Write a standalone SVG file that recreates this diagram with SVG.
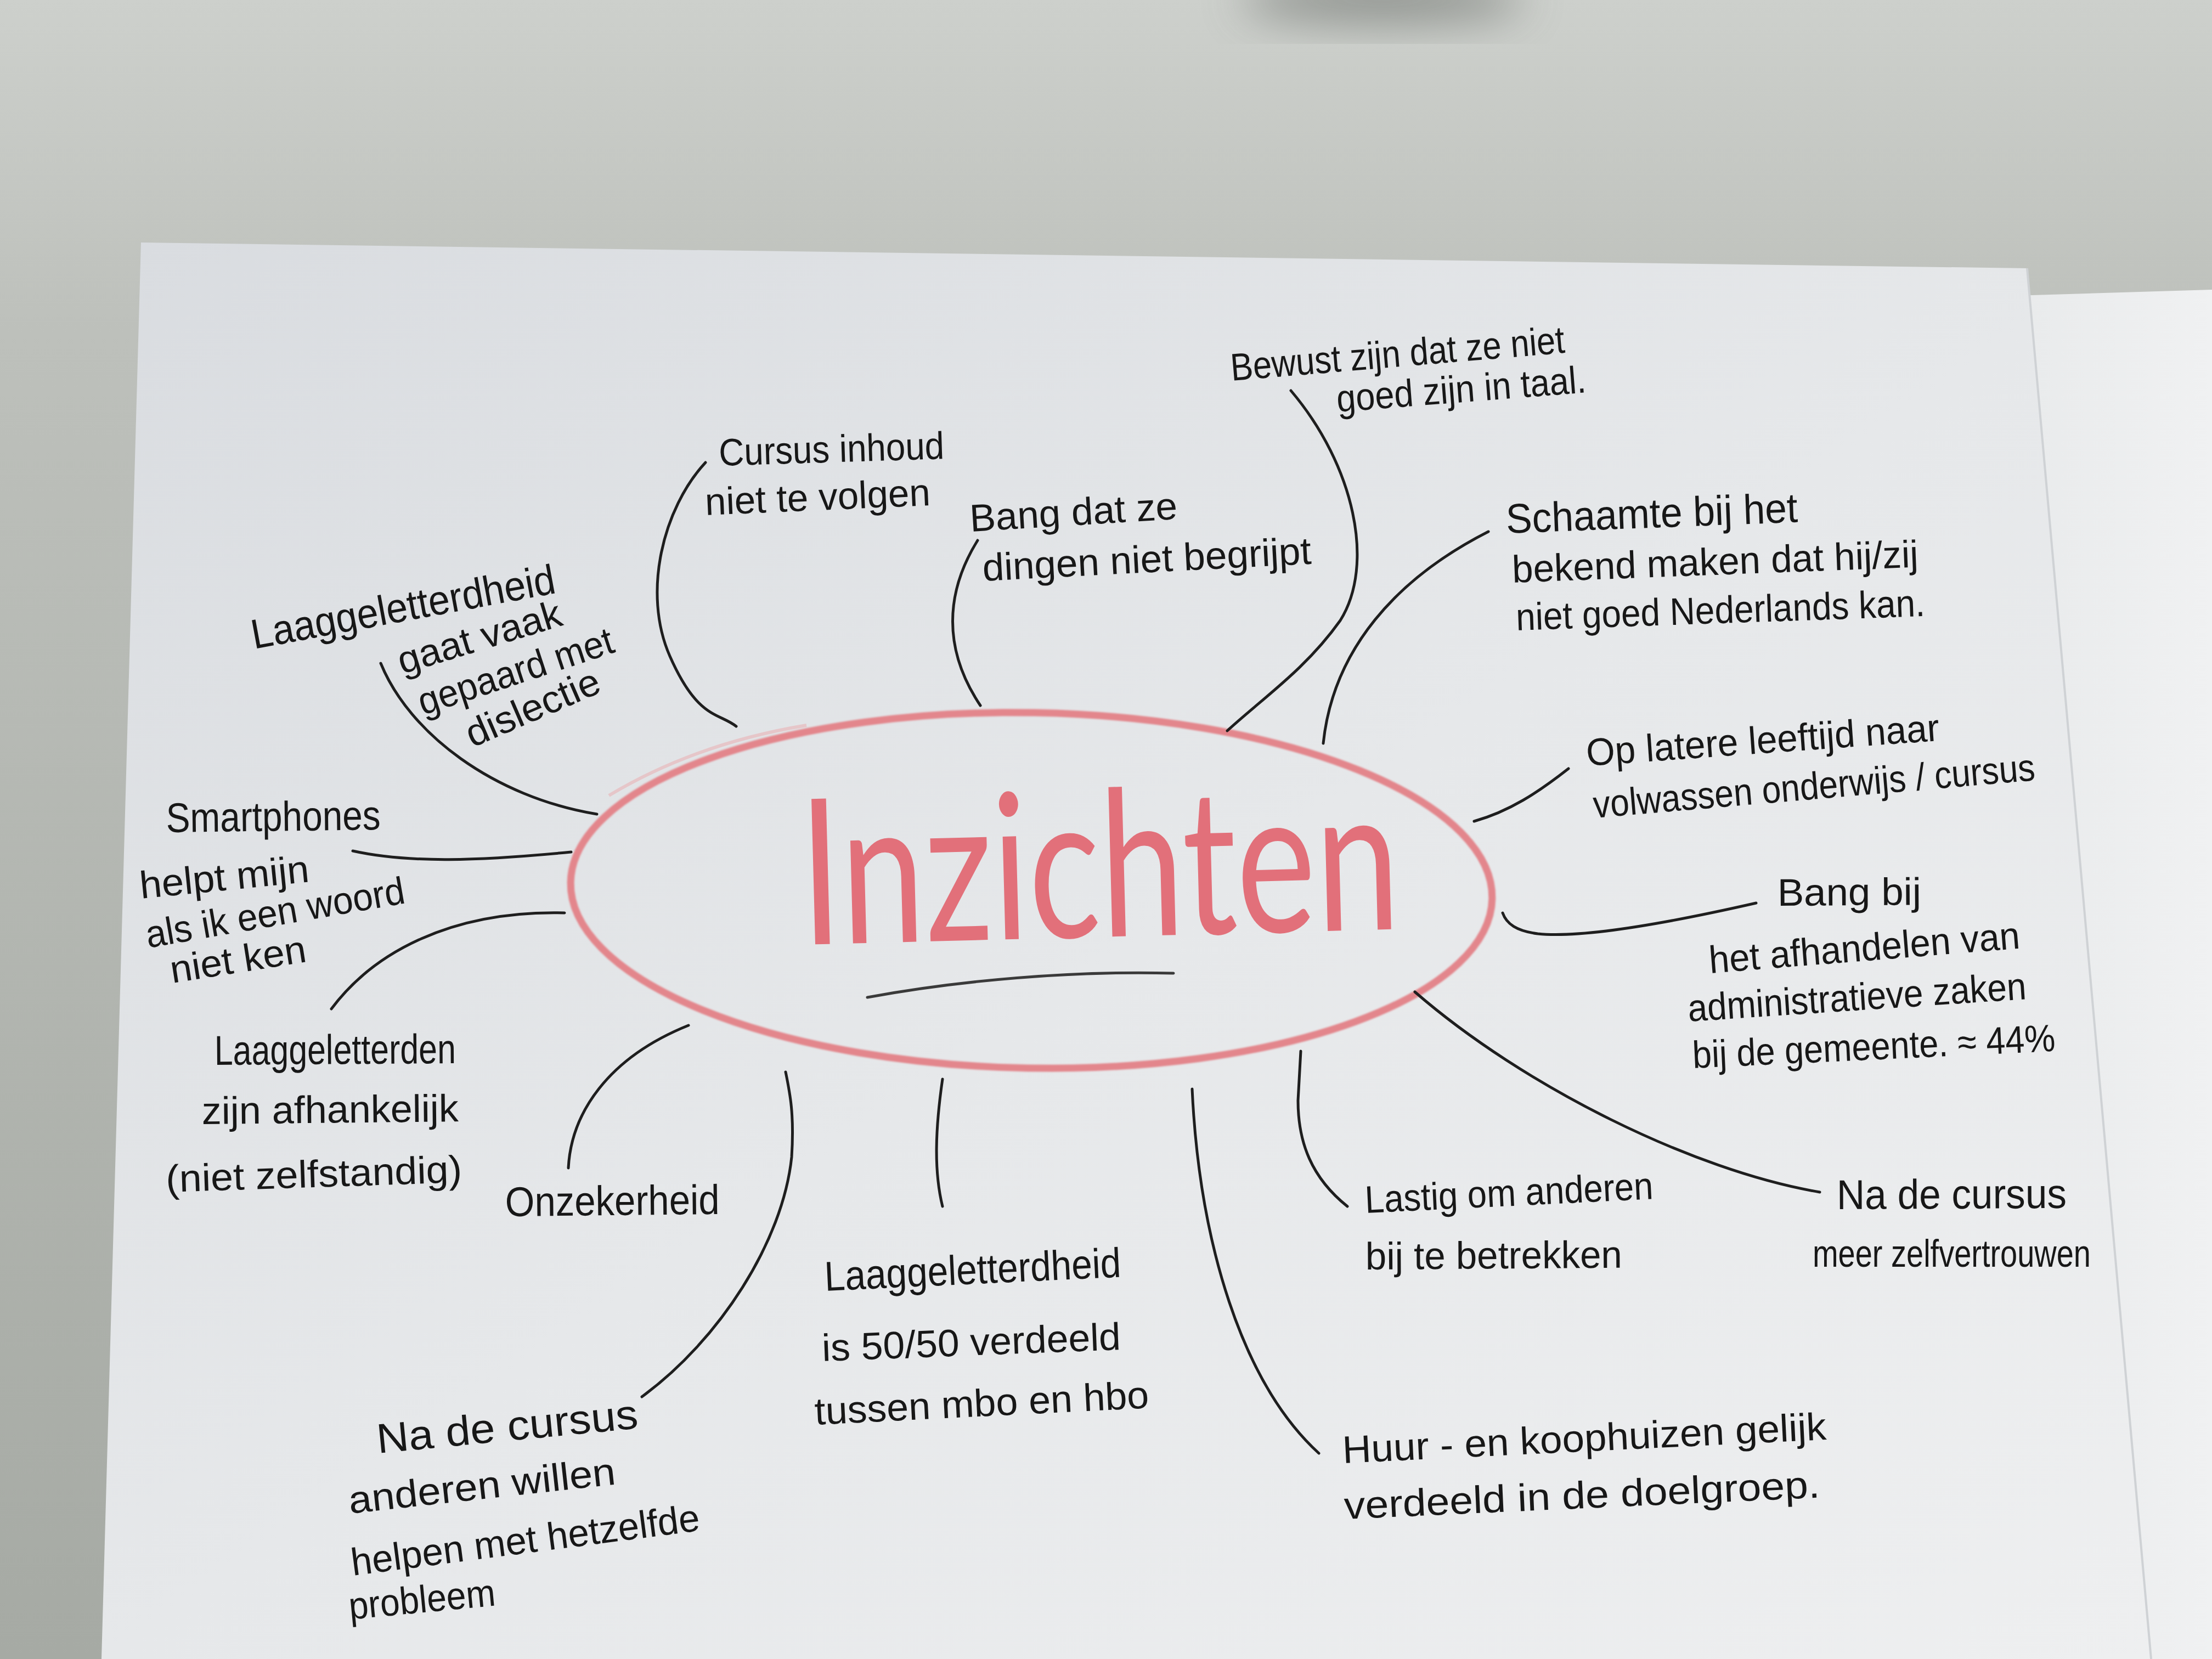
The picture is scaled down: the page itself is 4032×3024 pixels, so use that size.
<svg xmlns="http://www.w3.org/2000/svg" width="4032" height="3024" viewBox="0 0 4032 3024">
  <defs>
    <linearGradient id="tableGrad" x1="0" y1="0" x2="0" y2="1">
      <stop offset="0" stop-color="#cdd0cc"/>
      <stop offset="0.2" stop-color="#bdc0bb"/>
      <stop offset="1" stop-color="#a6aaa4"/>
    </linearGradient>
    <linearGradient id="paperGrad" x1="0" y1="0" x2="1" y2="1">
      <stop offset="0" stop-color="#d9dce0"/>
      <stop offset="0.5" stop-color="#e6e8ea"/>
      <stop offset="1" stop-color="#eeeff0"/>
    </linearGradient>
    <linearGradient id="sheetGrad" x1="0" y1="0" x2="1" y2="0">
      <stop offset="0" stop-color="#e8eaeb"/>
      <stop offset="1" stop-color="#f0f1f2"/>
    </linearGradient>
    <filter id="soft" x="-50%" y="-50%" width="200%" height="200%">
      <feGaussianBlur stdDeviation="40"/>
    </filter>
    <filter id="marker" x="-5%" y="-5%" width="110%" height="110%">
      <feGaussianBlur stdDeviation="1.5"/>
    </filter>
  </defs>
  <style>
    .hand { font-family: "Liberation Sans", "DejaVu Sans", sans-serif; font-size: 70px; fill: #171717; }
    .big { font-size: 76px; }
    .link { fill: none; stroke: #1e1e1e; stroke-width: 5; stroke-linecap: round; }
    .title { font-family: "Lato", "Liberation Sans", sans-serif; font-weight: 400; font-size: 370px; fill: #e2707a; }
  </style>

  <!-- table surface -->
  <rect x="0" y="0" width="4032" height="3024" fill="url(#tableGrad)"/>
  <ellipse cx="2520" cy="0" rx="260" ry="40" fill="#5f635e" opacity="0.6" filter="url(#soft)"/>

  <!-- sheet lying behind on the right -->
  <polygon points="3640,540 4032,528 4032,3024 3780,3024" fill="url(#sheetGrad)"/>

  <!-- main sheet -->
  <polygon points="257,442 3695,489 3921,3024 185,3024" fill="url(#paperGrad)"/>
  <line x1="3695" y1="489" x2="3921" y2="3024" stroke="#cfd2d5" stroke-width="4"/>

  <!-- central node -->
  <g id="node-inzichten">
    <ellipse cx="1880" cy="1623" rx="840" ry="324" transform="rotate(1 1880 1623)" fill="none" stroke="#e3868c" stroke-width="13" filter="url(#marker)"/>
    <path d="M1110,1450 C1210,1390 1330,1345 1470,1322" fill="none" stroke="#eab2b5" stroke-width="6" opacity="0.6"/>
    <text class="title" x="1461" y="1722" transform="rotate(-1.5 1461 1722)" textLength="1093" lengthAdjust="spacingAndGlyphs">Inzichten</text>
    <path d="M1581,1818 C1749,1787 1954,1769 2139,1774" fill="none" stroke="#3a3a3a" stroke-width="5" stroke-linecap="round"/>
  </g>

  <!-- connectors -->
  <g id="connectors">
    <path class="link" d="M1286,843 C1209,926 1170,1080 1221,1196 S1311,1299 1342,1324"/>
    <path class="link" d="M694,1209 C746,1337 900,1453 1088,1484"/>
    <path class="link" d="M643,1551 C746,1574 874,1569 1041,1553"/>
    <path class="link" d="M604,1839 C681,1736 823,1659 1029,1664"/>
    <path class="link" d="M1036,2129 C1041,2031 1106,1929 1255,1869"/>
    <path class="link" d="M1170,2546 C1311,2443 1427,2263 1443,2109 C1448,2031 1440,1993 1432,1954"/>
    <path class="link" d="M1718,1967 C1705,2057 1702,2134 1718,2199"/>
    <path class="link" d="M2404,2649 C2263,2520 2186,2263 2173,1985"/>
    <path class="link" d="M2456,2199 C2391,2147 2366,2083 2366,2006 L2371,1916"/>
    <path class="link" d="M3317,2173 C3086,2134 2777,1980 2579,1808"/>
    <path class="link" d="M3201,1646 C3034,1684 2880,1710 2803,1702 C2764,1697 2746,1684 2739,1664"/>
    <path class="link" d="M2859,1401 C2803,1445 2751,1479 2687,1497"/>
    <path class="link" d="M2713,969 C2546,1054 2430,1183 2412,1355"/>
    <path class="link" d="M2353,712 C2469,849 2507,1029 2443,1131 C2379,1221 2301,1273 2237,1332"/>
    <path class="link" d="M1782,985 C1723,1080 1718,1183 1787,1286"/>
  </g>

  <g id="node-cursus-inhoud">
    <text class="hand" x="1311" y="849" transform="rotate(-1.8 1311 849)" textLength="411" lengthAdjust="spacingAndGlyphs">Cursus inhoud</text>
    <text class="hand" x="1286" y="939" transform="rotate(-2.5 1286 939)" textLength="411" lengthAdjust="spacingAndGlyphs">niet te volgen</text>
  </g>

  <g id="node-bang-begrijpt">
    <text class="hand" x="1769" y="969" transform="rotate(-3.5 1769 969)" textLength="379" lengthAdjust="spacingAndGlyphs">Bang dat ze</text>
    <text class="hand" x="1792" y="1059" transform="rotate(-3 1792 1059)" textLength="600" lengthAdjust="spacingAndGlyphs">dingen niet begrijpt</text>
  </g>

  <g id="node-bewust">
    <text class="hand" x="2245" y="694" transform="rotate(-4.8 2245 694)" textLength="611" lengthAdjust="spacingAndGlyphs">Bewust zijn dat ze niet</text>
    <text class="hand" x="2438" y="751" transform="rotate(-4.5 2438 751)" textLength="456" lengthAdjust="spacingAndGlyphs">goed zijn in taal.</text>
  </g>

  <g id="node-schaamte">
    <text class="hand big" x="2746" y="972" transform="rotate(-2.2 2746 972)" textLength="532" lengthAdjust="spacingAndGlyphs">Schaamte bij het</text>
    <text class="hand" x="2757" y="1062" transform="rotate(-2.2 2757 1062)" textLength="741" lengthAdjust="spacingAndGlyphs">bekend maken dat hij/zij</text>
    <text class="hand" x="2764" y="1149" transform="rotate(-2 2764 1149)" textLength="746" lengthAdjust="spacingAndGlyphs">niet goed Nederlands kan.</text>
  </g>

  <g id="node-latere-leeftijd">
    <text class="hand" x="2893" y="1396" transform="rotate(-4.1 2893 1396)" textLength="645" lengthAdjust="spacingAndGlyphs">Op latere leeftijd naar</text>
    <text class="hand" x="2906" y="1491" transform="rotate(-4.9 2906 1491)" textLength="808" lengthAdjust="spacingAndGlyphs">volwassen onderwijs / cursus</text>
  </g>

  <g id="node-bang-gemeente">
    <text class="hand" x="3240" y="1651" transform="rotate(-0.4 3240 1651)" textLength="262" lengthAdjust="spacingAndGlyphs">Bang bij</text>
    <text class="hand" x="3117" y="1774" transform="rotate(-4.6 3117 1774)" textLength="568" lengthAdjust="spacingAndGlyphs">het afhandelen van</text>
    <text class="hand" x="3078" y="1862" transform="rotate(-3.8 3078 1862)" textLength="618" lengthAdjust="spacingAndGlyphs">administratieve zaken</text>
    <text class="hand" x="3086" y="1947" transform="rotate(-2.7 3086 1947)" textLength="662" lengthAdjust="spacingAndGlyphs">bij de gemeente. ≈ 44%</text>
  </g>

  <g id="node-zelfvertrouwen">
    <text class="hand big" x="3348" y="2204" transform="rotate(-0.3 3348 2204)" textLength="419" lengthAdjust="spacingAndGlyphs">Na de cursus</text>
    <text class="hand" x="3304" y="2309" textLength="507" lengthAdjust="spacingAndGlyphs">meer zelfvertrouwen</text>
  </g>

  <g id="node-lastig">
    <text class="hand" x="2489" y="2211" transform="rotate(-2.8 2489 2211)" textLength="526" lengthAdjust="spacingAndGlyphs">Lastig om anderen</text>
    <text class="hand" x="2489" y="2314" transform="rotate(-0.4 2489 2314)" textLength="468" lengthAdjust="spacingAndGlyphs">bij te betrekken</text>
  </g>

  <g id="node-huizen">
    <text class="hand" x="2448" y="2667" transform="rotate(-2.8 2448 2667)" textLength="883" lengthAdjust="spacingAndGlyphs">Huur - en koophuizen gelijk</text>
    <text class="hand" x="2451" y="2769" transform="rotate(-2.6 2451 2769)" textLength="868" lengthAdjust="spacingAndGlyphs">verdeeld in de doelgroep.</text>
  </g>

  <g id="node-mbo-hbo">
    <text class="hand big" x="1504" y="2353" transform="rotate(-2.7 1504 2353)" textLength="541" lengthAdjust="spacingAndGlyphs">Laaggeletterdheid</text>
    <text class="hand" x="1499" y="2481" transform="rotate(-2.2 1499 2481)" textLength="545" lengthAdjust="spacingAndGlyphs">is 50/50 verdeeld</text>
    <text class="hand" x="1486" y="2597" transform="rotate(-2.9 1486 2597)" textLength="610" lengthAdjust="spacingAndGlyphs">tussen mbo en hbo</text>
  </g>

  <g id="node-anderen-helpen">
    <text class="hand big" x="689" y="2649" transform="rotate(-5.5 689 2649)" textLength="478" lengthAdjust="spacingAndGlyphs">Na de cursus</text>
    <text class="hand" x="638" y="2759" transform="rotate(-6.3 638 2759)" textLength="489" lengthAdjust="spacingAndGlyphs">anderen willen</text>
    <text class="hand" x="643" y="2872" transform="rotate(-7.4 643 2872)" textLength="640" lengthAdjust="spacingAndGlyphs">helpen met hetzelfde</text>
    <text class="hand" x="638" y="2952" transform="rotate(-5.5 638 2952)" textLength="268" lengthAdjust="spacingAndGlyphs">probleem</text>
  </g>

  <g id="node-onzekerheid">
    <text class="hand big" x="921" y="2217" transform="rotate(-0.6 921 2217)" textLength="391" lengthAdjust="spacingAndGlyphs">Onzekerheid</text>
  </g>

  <g id="node-afhankelijk">
    <text class="hand big" x="391" y="1941" transform="rotate(-0.4 391 1941)" textLength="440" lengthAdjust="spacingAndGlyphs">Laaggeletterden</text>
    <text class="hand" x="368" y="2049" transform="rotate(-0.6 368 2049)" textLength="468" lengthAdjust="spacingAndGlyphs">zijn afhankelijk</text>
    <text class="hand" x="303" y="2173" transform="rotate(-1.9 303 2173)" textLength="540" lengthAdjust="spacingAndGlyphs">(niet zelfstandig)</text>
  </g>

  <g id="node-smartphones">
    <text class="hand big" x="303" y="1517" transform="rotate(-0.7 303 1517)" textLength="391" lengthAdjust="spacingAndGlyphs">Smartphones</text>
    <text class="hand" x="257" y="1638" transform="rotate(-5.7 257 1638)" textLength="310" lengthAdjust="spacingAndGlyphs">helpt mijn</text>
    <text class="hand" x="270" y="1728" transform="rotate(-9.9 270 1728)" textLength="478" lengthAdjust="spacingAndGlyphs">als ik een woord</text>
    <text class="hand" x="314" y="1792" transform="rotate(-9 314 1792)" textLength="250" lengthAdjust="spacingAndGlyphs">niet ken</text>
  </g>

  <g id="node-dislectie">
    <text class="hand big" x="463" y="1183" transform="rotate(-10.5 463 1183)" textLength="562" lengthAdjust="spacingAndGlyphs">Laaggeletterdheid</text>
    <text class="hand" x="733" y="1229" transform="rotate(-16.9 733 1229)" textLength="309" lengthAdjust="spacingAndGlyphs">gaat vaak</text>
    <text class="hand" x="771" y="1304" transform="rotate(-18.2 771 1304)" textLength="371" lengthAdjust="spacingAndGlyphs">gepaard met</text>
    <text class="hand" x="861" y="1363" transform="rotate(-23.3 861 1363)" textLength="260" lengthAdjust="spacingAndGlyphs">dislectie</text>
  </g>
</svg>
